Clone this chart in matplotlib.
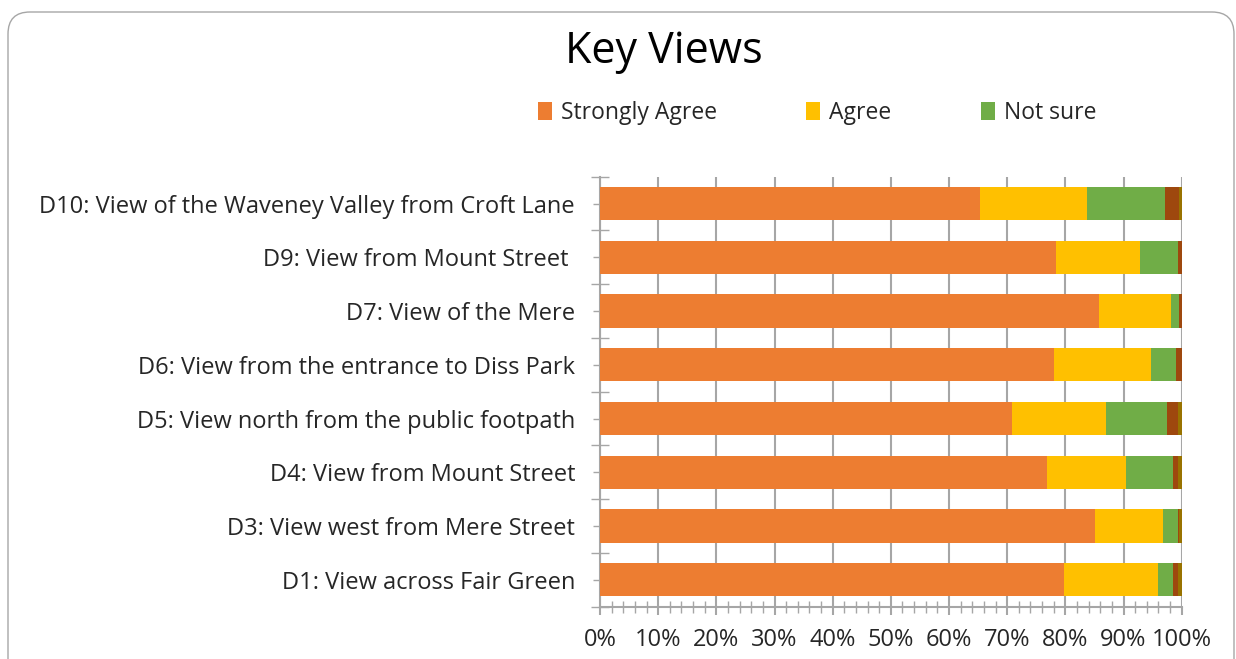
import matplotlib
matplotlib.use("Agg")
import matplotlib.pyplot as plt
from matplotlib.patches import FancyBboxPatch, Patch
from matplotlib.ticker import MultipleLocator, FixedLocator, FuncFormatter
import numpy as np

plt.rcParams['font.family'] = ['Open Sans', 'DejaVu Sans']

categories = [
    "D1: View across Fair Green",
    "D3: View west from Mere Street",
    "D4: View from Mount Street",
    "D5: View north from the public footpath",
    "D6: View from the entrance to Diss Park",
    "D7: View of the Mere",
    "D9: View from Mount Street ",
    "D10: View of the Waveney Valley from Croft Lane",
]
strongly_agree    = [79.7, 85.1, 76.8, 70.9, 78.1, 85.8, 78.4, 65.4]
agree             = [16.3, 11.7, 13.7, 16.1, 16.6, 12.4, 14.4, 18.3]
not_sure          = [2.5, 2.6, 8.0, 10.4, 4.3, 1.4, 6.6, 13.5]
disagree          = [0.9, 0.2, 0.9, 2.0, 1.0, 0.4, 0.6, 2.4]
strongly_disagree = [0.6, 0.4, 0.6, 0.6, 0.0, 0.0, 0.0, 0.4]

series_names = ["Strongly Agree", "Agree", "Not sure", "Disagree", "Strongly Disagree"]
series = [strongly_agree, agree, not_sure, disagree, strongly_disagree]
colors = ["#ED7D31", "#FFC000", "#70AD47", "#9E480E", "#997300"]

W, H = 1236, 659
fig = plt.figure(figsize=(W / 100, H / 100), dpi=100)

# rounded chart frame
frame = FancyBboxPatch((8, -30), 1226, 659 - 12 + 30,
                       boxstyle="round,pad=0,rounding_size=22",
                       transform=None, facecolor="none",
                       edgecolor="#A6A6A6", linewidth=1.0, zorder=-10)
fig.patches.append(frame)

ax = fig.add_axes([600 / W, 52.3 / H, 581.7 / W, 430 / H])
ax.set_facecolor("none")

y = np.arange(len(categories))
left = np.zeros(len(categories))
for name, vals, c in zip(series_names, series, colors):
    vals = np.array(vals)
    ax.barh(y, vals, left=left, height=0.62, color=c, label=name, zorder=3)
    left += vals

ax.set_xlim(0, 100)
ax.set_ylim(-0.5, len(categories) - 0.5)

grid_c = "#A6A6A6"
ax.xaxis.set_major_locator(MultipleLocator(10))
ax.xaxis.set_minor_locator(MultipleLocator(2))
ax.xaxis.set_major_formatter(FuncFormatter(lambda v, p: f"{int(round(v))}%"))
ax.grid(axis="x", which="major", color=grid_c, linewidth=1.5, zorder=1)

ax.yaxis.set_major_locator(FixedLocator(y))
ax.set_yticklabels(categories)
ax.yaxis.set_minor_locator(FixedLocator(np.arange(-0.5, len(categories), 1.0)))

for s in ["top", "right"]:
    ax.spines[s].set_visible(False)
for s in ["left", "bottom"]:
    ax.spines[s].set_color(grid_c)
    ax.spines[s].set_linewidth(1.5)

ax.tick_params(axis="x", which="major", direction="out", length=6, width=1.5,
               color=grid_c, labelsize=17, labelcolor="#262626", pad=9)
ax.tick_params(axis="x", which="minor", direction="inout", length=8.6, width=1.0,
               color=grid_c)
ax.tick_params(axis="y", which="major", direction="inout", length=10, width=1.0,
               color=grid_c, labelsize=17, labelcolor="#262626", pad=13)
ax.tick_params(axis="y", which="minor", direction="inout", length=12.7, width=1.0,
               color=grid_c)

fig.text(664 / W, 1 - 52 / H, "Key Views", ha="center", va="center",
         fontsize=31, color="#000000")

handles = [Patch(facecolor=c, edgecolor="none") for c in colors[:3]]
fig.legend(handles, series_names[:3], loc="center",
           bbox_to_anchor=(817 / W, 1 - 113 / H), ncol=3, frameon=False,
           fontsize=16.5, handlelength=0.6, handleheight=0.8, handletextpad=0.4,
           columnspacing=3.9, labelcolor="#262626")

fig.savefig("out.png", dpi=100)
